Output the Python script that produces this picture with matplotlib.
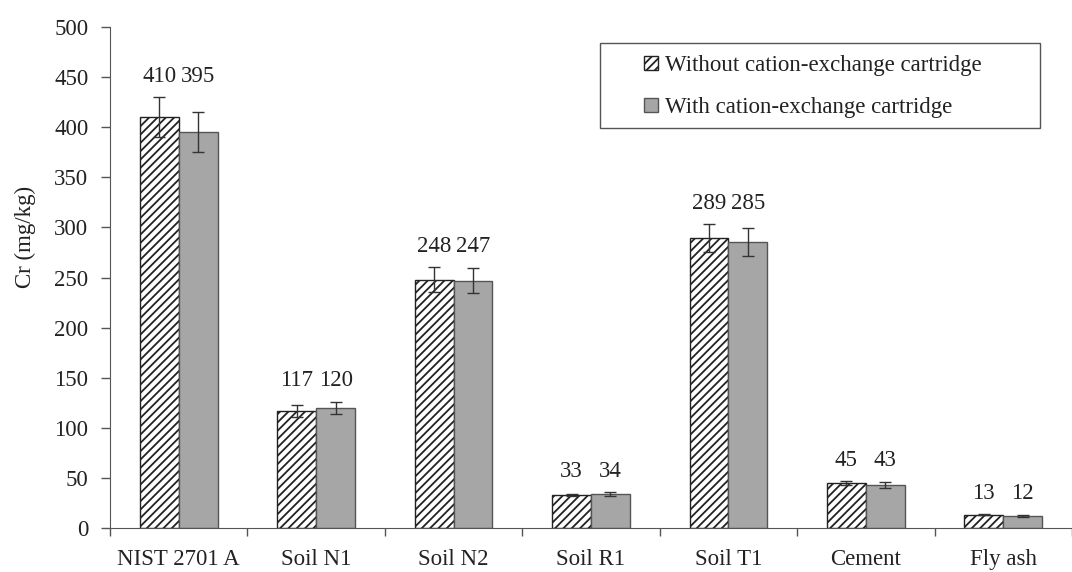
import matplotlib
matplotlib.use("Agg")
import matplotlib.pyplot as plt
from matplotlib.patches import Rectangle
import numpy as np

categories = ["NIST 2701 A", "Soil N1", "Soil N2", "Soil R1", "Soil T1", "Cement", "Fly ash"]
without_vals = [410, 117, 248, 33, 289, 45, 13]
with_vals = [395, 120, 247, 34, 285, 43, 12]
without_err = [20, 6, 12, 1, 14, 2, 0.5]
with_err = [20, 6, 12, 2, 14, 3, 1]
series_names = ["Without cation-exchange cartridge", "With cation-exchange cartridge"]

plt.rcParams['font.family'] = ['Liberation Serif', 'DejaVu Serif']
plt.rcParams['hatch.linewidth'] = 1.3

FS = 16.5
fig = plt.figure(figsize=(10.72, 5.72), dpi=100)
ax = fig.add_axes([110/1072, 44/572, 962/1072, 501/572])

x = np.arange(len(categories))
w = 0.283
ax.bar(x - w/2, without_vals, w, color='white', edgecolor='#222222', hatch='////',
       linewidth=1.0, label=series_names[0], zorder=2)
ax.bar(x + w/2, with_vals, w, color='#a6a6a6', edgecolor='#555555',
       linewidth=1.0, label=series_names[1], zorder=2)
ax.errorbar(x - w/2, without_vals, yerr=without_err, fmt='none', ecolor='#333333',
            elinewidth=1.0, capsize=4, capthick=1.0, zorder=3)
ax.errorbar(x + w/2, with_vals, yerr=with_err, fmt='none', ecolor='#333333',
            elinewidth=1.0, capsize=4, capthick=1.0, zorder=3)

for i in range(len(categories)):
    top = max(without_vals[i] + without_err[i], with_vals[i] + with_err[i])
    for xi, v in ((x[i] - w/2, without_vals[i]), (x[i] + w/2, with_vals[i])):
        ax.annotate(f"{v}", (xi, top), xytext=(0, 15), textcoords='offset points',
                    ha='center', va='center', fontsize=FS, color='#222222')

ax.set_ylim(0, 500)
ax.set_xlim(-0.5, 6.396)
ax.set_yticks(np.arange(0, 501, 50))
ax.tick_params(axis='y', labelsize=FS, length=6.5, width=1, color='#555555', pad=9,
               labelcolor='#222222')
ax.set_xticks(np.arange(-0.5, 7, 1.0))
ax.set_xticklabels([])
ax.set_xticks(x, minor=True)
ax.set_xticklabels(categories, minor=True, fontsize=FS, color='#222222')
ax.tick_params(axis='x', which='major', length=6, width=1, color='#555555')
ax.tick_params(axis='x', which='minor', length=0, pad=15)
ax.spines['top'].set_visible(False)
ax.spines['right'].set_visible(False)
ax.spines['left'].set_color('#555555')
ax.spines['bottom'].set_color('#555555')
ax.set_ylabel("Cr (mg/kg)", fontsize=FS, color='#222222')
ax.yaxis.set_label_coords(-0.077, 0.58)

frame = Rectangle((600/1072, 1 - 128/572), 440/1072, 85/572,
                  transform=fig.transFigure, facecolor='white',
                  edgecolor='#555555', linewidth=1.0, zorder=4, clip_on=False)
ax.add_artist(frame)
leg = ax.legend(loc='upper left', bbox_to_anchor=(644/1072, 1 - 55/572),
                bbox_transform=fig.transFigure, fontsize=FS, frameon=False,
                handlelength=0.6, handleheight=0.6, handletextpad=0.3,
                borderpad=0, labelspacing=0.92, borderaxespad=0)
leg.set_zorder(5)
for t in leg.get_texts():
    t.set_color('#222222')

fig.savefig("out.png", dpi=100)
